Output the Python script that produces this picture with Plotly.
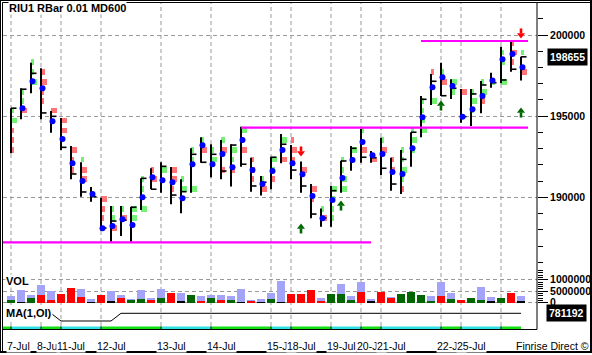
import plotly.graph_objects as go

W, H = 592, 355
def P(px): return px / W
def Q(py): return 1 - py / H

# ---------------- data ----------------
day_labels = ['7-Jul', '8-Jul', '11-Jul', '12-Jul', '13-Jul', '14-Jul', '15-Jul', '18-Jul',
              '19-Jul', '20-Jul', '21-Jul', '22-Jul', '25-Jul', '']
day_start = [0, 3, 5, 9, 15, 20, 26, 28, 32, 35, 37, 43, 45, 49]

bar_idx = list(range(52))
high = [195490, 196720, 198290, 197950, 195320, 194890, 193160, 192160, 190640, 189980,
        189470, 189470, 189420, 191170, 191790, 192160, 191870, 191110, 193020, 193700,
        193270, 193530, 193270, 194350, 192440, 191310, 192500, 193900, 193220, 192200,
        190820, 189320, 190700, 192260, 193160, 194210, 192850, 193670, 192440, 192920,
        194010, 196240, 197600, 198290, 197270, 196670, 196670, 197170, 197680, 199280,
        199590, 198660]
low = [192710, 194810, 196410, 194810, 193980, 192920, 191110, 190040, 189730, 187950,
       187270, 187620, 187270, 189220, 190500, 190290, 189570, 189020, 190290, 192130,
       191230, 191110, 190660, 191890, 190350, 190110, 190500, 192100, 191110, 190290,
       188710, 188190, 188190, 190290, 191640, 192130, 192130, 191380, 190410, 190210,
       191890, 193700, 195690, 196240, 196060, 194600, 194390, 195180, 196750, 197030,
       197740, 197190]
close = [195490, 196660, 197640, 195200, 194990, 193080, 191440, 190330, 190040, 188110,
         188540, 188590, 189390, 191170, 190500, 191910, 190140, 190350, 192650, 192160,
         192650, 191620, 193220, 192040, 190700, 190930, 192470, 193270, 191680, 190700,
         188970, 188730, 190410, 192240, 193020, 192470, 192440, 191790, 190820, 192340,
         194010, 196040, 197150, 196260, 196720, 194970, 196370, 196920, 197060, 197230,
         197890, 198655]
dot = [None, 195490, 197150, 196720, 194680, 193590, 192100, 191010, 190210, 188090,
       188230, 188650, 188300, 190000, 191230, 191050, 190930, 189940, 192040, 193210,
       192040, 192670, 191850, 193530, 191680, 190820, 191620, 192920, 192100, 191420,
       190080, 188710, 189840, 191190, 192300, 193410, 192590, 192670, 191560, 191440,
       193020, 194930, 196780, 197390, 196860, 194970, 195420, 196240, 197190, 198500,
       198830, 198010]

# per-bar volume-at-price blocks: bar, price level, relative size, colour
blk_bar = [0, 0, 0, 0, 0, 1, 1, 1, 2, 2, 2, 3, 3, 3, 3, 4, 5, 5, 6, 6, 6, 7, 7, 7,
           9, 9, 9, 10, 10, 10, 11, 11, 12, 12, 13, 13, 13, 14, 14, 15, 16, 16, 16,
           17, 17, 18, 18, 18, 19, 19, 20, 20, 21, 21, 21, 22, 22, 22, 23, 23, 23,
           24, 24, 24, 25, 25, 26, 26, 26, 27, 27, 28, 28, 28, 29, 30, 30, 31, 31,
           32, 32, 32, 32, 33, 33, 33, 33, 34, 35, 35, 36, 37, 37, 38, 38,
           39, 39, 39, 39, 39, 40, 40, 40, 41, 41, 41, 41, 42, 42, 43, 43, 44, 44,
           45, 46, 46, 46, 47, 47, 47, 48, 49, 49, 49, 50, 50, 50, 51, 51]
blk_price = [195350, 194730, 194120, 193530, 192920, 196490, 195930, 195350,
             198340, 197720, 197110, 197720, 197110, 196490, 195930, 195350,
             194730, 194120, 192920, 192330, 191680, 192330, 191680, 191130,
             189900, 189280, 188730, 189280, 188730, 188110, 189280, 188730,
             189280, 188730, 191130, 190510, 189280, 191680, 191130, 191680,
             191680, 191130, 190510, 191130, 190510, 192920, 192330, 190510,
             193530, 192920, 192920, 192330, 193530, 192920, 191680, 192920, 192330, 191680,
             194120, 193530, 192920, 192330, 191680, 191130, 191130, 190510,
             192330, 191680, 191130, 193530, 192330, 193530, 192920, 192330, 191680,
             190510, 189900, 189280, 188730, 190510, 189900, 189280, 188730,
             192330, 191680, 191130, 190510, 192920, 194120, 192920, 192330, 193530, 192920,
             192330, 191680, 192920, 192330, 191680, 191130, 190510,
             194120, 193530, 192920, 195930, 195350, 194730, 194120, 197720, 195930,
             197720, 197110, 197110, 196490, 196490, 196490, 195930, 195350,
             197110, 196490, 195930, 197110, 198920, 198340, 197110,
             199480, 198920, 198340, 198920, 197720]
blk_size = [1, 3, 1, 1, 1, 1, 1, 3, 1, 1, 3, 2, 3, 1, 1, 3, 3, 3, 3, 1, 1, 1, 3, 3,
            3, 2, 1, 1, 2, 3, 1, 3, 3, 3, 1, 1, 3, 1, 3, 3, 3, 3, 1,
            1, 3, 1, 1, 3, 1, 3, 1, 3, 2, 3, 2, 3, 1, 2, 3, 1, 3,
            1, 2, 1, 1, 3, 3, 2, 2, 3, 3, 1, 3, 2, 3, 3, 1, 1, 3,
            3, 2, 1, 1, 1, 1, 3, 3, 3, 1, 3, 3, 1, 3, 1, 2,
            1, 1, 3, 1, 1, 1, 3, 2, 1, 1, 2, 3, 1, 3, 1, 3, 3, 2,
            3, 1, 3, 1, 1, 3, 2, 2, 1, 2, 3, 1, 3, 1, 1, 3]
blk_col = ['g', 'g', 'r', 'r', 'r', 'g', 'g', 'r', 'g', 'g', 'g', 'r', 'r', 'r', 'r', 'r',
           'r', 'r', 'r', 'r', 'r', 'g', 'r', 'r', 'r', 'r', 'r', 'g', 'g', 'r', 'g', 'r',
           'g', 'g', 'g', 'g', 'g', 'r', 'r', 'g', 'r', 'r', 'r', 'g', 'g', 'g', 'g', 'g',
           'g', 'r', 'g', 'g', 'g', 'r', 'r', 'g', 'g', 'r', 'g', 'g', 'r',
           'r', 'r', 'r', 'g', 'r', 'g', 'g', 'r', 'g', 'r', 'r', 'r', 'r', 'r',
           'r', 'r', 'g', 'r', 'g', 'g', 'g', 'g', 'g', 'g', 'g', 'g', 'g', 'g', 'r',
           'r', 'g', 'r', 'r', 'r', 'g', 'g', 'g', 'g', 'r', 'g', 'g', 'g',
           'g', 'g', 'g', 'g', 'r', 'g', 'g', 'r', 'g', 'g', 'r', 'g', 'g', 'g',
           'g', 'g', 'r', 'g', 'g', 'g', 'g', 'r', 'r', 'r', 'g', 'r']

# support / resistance lines: start bar, end bar, price
sr_start = [-1, 23, 41]
sr_end = [36, 51.7, 51.7]
sr_price = [187220, 194300, 199630]

# signal arrows (tip price)
arrow_bar = [29, 51, 29, 33, 43, 51]
arrow_price = [192610, 199880, 188300, 189710, 195870, 195440]
arrow_dir = ['down', 'down', 'up', 'up', 'up', 'up']

vol_total = [2.94, 5.59, 3.38, 7.79, 5.15, 3.82, 6.47, 6.03, 1.62, 3.38,
             5.15, 3.38, 1.62, 5.59, 2.06, 6.03, 4.26, 4.26, 3.38, 2.94,
             3.38, 3.38, 2.94, 6.03, 1.18, 1.62, 4.26, 9.56, 3.82, 3.82,
             5.59, 2.06, 3.82, 8.24, 2.94, 9.12, 1.62, 4.71, 2.50, 3.82,
             4.71, 3.38, 2.94, 9.12, 4.26, 1.18, 2.06, 6.91, 2.50, 2.06,
             4.26, 2.94]
vol_part = [1.18, 0.30, 1.91, 3.38, 1.18, 3.82, 6.47, 2.50, 0.30, 3.38,
            0.40, 2.06, 1.18, 1.62, 1.18, 2.06, 4.26, 0.74, 3.38, 0.74,
            2.06, 1.18, 1.18, 0.20, 0.74, 0.20, 1.62, 0.20, 3.82, 3.82,
            5.59, 0.74, 3.82, 3.82, 1.18, 4.71, 0.40, 4.71, 2.06, 3.82,
            4.71, 3.38, 0.74, 2.94, 1.62, 1.18, 2.06, 1.18, 0.40, 2.06,
            4.26, 0.40]
vol_col = ['g', 'k', 'g', 'r', 'r', 'r', 'r', 'r', 'k', 'r',
           'k', 'r', 'g', 'g', 'r', 'g', 'r', 'k', 'g', 'r',
           'g', 'r', 'g', 'k', 'r', 'k', 'g', 'k', 'r', 'r',
           'r', 'r', 'g', 'g', 'g', 'r', 'k', 'r', 'r', 'g',
           'g', 'g', 'g', 'r', 'g', 'r', 'g', 'g', 'k', 'g',
           'r', 'k']
vol_scale = 1e6

oi = [781192] * 5 + [779650] * 6 + [781192] * 12 + [781310] + [781192] * 28
last_price = 198655
last_oi = 781192

# ---------------- styling ----------------
GRID = '#9a9a9a'
DASH = '4px,3px'
BLK_COL = {'g': '#74F074', 'r': '#FF7474'}
VOL_COL = {'g': '#006600', 'r': '#FF0000', 'k': '#000000'}
BLK_W = {1: 0.25, 2: 0.42, 3: 0.64}
FONT = 'Liberation Sans, Arial, sans-serif'
PPX = 61.6           # price points per screen pixel
XR = [(3 - 11) / 10, (537 - 11) / 10]

fig = go.Figure()

# volume-at-price blocks
for c in ['g', 'r']:
    ys = [p for p, cc in zip(blk_price, blk_col) if cc == c]
    bs = [b for b, cc in zip(blk_bar, blk_col) if cc == c]
    ws = [BLK_W[s] for s, cc in zip(blk_size, blk_col) if cc == c]
    fig.add_trace(go.Bar(orientation='h', y=ys, x=ws, base=bs, width=350,
                         marker=dict(color=BLK_COL[c], line=dict(width=0)),
                         xaxis='x', yaxis='y', showlegend=False))

# range bars
vx, vy, tx, ty = [], [], [], []
for i, h, l, c in zip(bar_idx, high, low, close):
    vx += [i, i, None]
    vy += [l, h, None]
    tx += [i, i + 0.55, None]
    ty += [c, c, None]
fig.add_trace(go.Scatter(x=vx, y=vy, mode='lines', line=dict(color='black', width=2),
                         showlegend=False, xaxis='x', yaxis='y'))
fig.add_trace(go.Scatter(x=tx, y=ty, mode='lines', line=dict(color='black', width=1.6),
                         showlegend=False, xaxis='x', yaxis='y'))

# support/resistance lines
for s, e, p in zip(sr_start, sr_end, sr_price):
    fig.add_trace(go.Scatter(x=[s, e], y=[p, p], mode='lines',
                             line=dict(color='#FF00FF', width=2.2),
                             showlegend=False, xaxis='x', yaxis='y'))

# blue dots
fig.add_trace(go.Scatter(x=[i + 0.15 for i in bar_idx], y=dot, mode='markers',
                         marker=dict(color='#0000FF', size=6, line=dict(width=0)),
                         showlegend=False, xaxis='x', yaxis='y'))

# signal arrows: shaft + head
for d, col, sym in [('up', '#006600', 'triangle-up'), ('down', '#FF0000', 'triangle-down')]:
    sgn = -1 if d == 'up' else 1
    sx, sy, hx, hy = [], [], [], []
    for b, p, dd in zip(arrow_bar, arrow_price, arrow_dir):
        if dd != d:
            continue
        sx += [b, b, None]
        sy += [p + sgn * 3.5 * PPX, p + sgn * 8.5 * PPX, None]
        hx.append(b)
        hy.append(p + sgn * 2.0 * PPX)
    fig.add_trace(go.Scatter(x=sx, y=sy, mode='lines', line=dict(color=col, width=2.6),
                             showlegend=False, xaxis='x', yaxis='y'))
    fig.add_trace(go.Scatter(x=hx, y=hy, mode='markers',
                             marker=dict(symbol=sym, size=7, color=col, line=dict(width=0)),
                             showlegend=False, xaxis='x', yaxis='y'))

# volume
fig.add_trace(go.Bar(x=bar_idx, y=[v * vol_scale for v in vol_total], width=0.8,
                     marker=dict(color='#A3A3FA', line=dict(width=0)),
                     xaxis='x', yaxis='y2', showlegend=False))
fig.add_trace(go.Bar(x=bar_idx, y=[v * vol_scale for v in vol_part], width=0.8,
                     marker=dict(color=[VOL_COL[c] for c in vol_col], line=dict(width=0)),
                     xaxis='x', yaxis='y2', showlegend=False))

# open interest MA
fig.add_trace(go.Scatter(x=bar_idx, y=oi, mode='lines', line=dict(color='black', width=1),
                         showlegend=False, xaxis='x', yaxis='y3'))

shapes = []
# vertical day gridlines
for s in day_start:
    shapes.append(dict(type='line', xref='x', yref='paper', x0=s, x1=s, y0=Q(326), y1=Q(3),
                       line=dict(color=GRID, width=1, dash=DASH), layer='below'))
# session band
band_cols = ['#2EE0E0', '#10E010']
edges = [XR[0]] + day_start + [51]
for k in range(len(edges) - 1):
    shapes.append(dict(type='rect', xref='x', yref='paper', x0=edges[k], x1=edges[k + 1],
                       y0=Q(329), y1=Q(326.5), fillcolor=band_cols[(k + 1) % 2],
                       line=dict(width=0)))
for s in day_start:
    shapes.append(dict(type='line', xref='x', yref='paper', x0=s, x1=s, y0=Q(329), y1=Q(326.5),
                       line=dict(color='black', width=1)))
# frame lines
shapes += [
    dict(type='line', xref='paper', yref='paper', x0=P(537), x1=P(537), y0=Q(329.5), y1=Q(2.5),
         line=dict(color='black', width=1)),
    dict(type='line', xref='paper', yref='paper', x0=P(2.5), x1=P(537), y0=Q(329.5), y1=Q(329.5),
         line=dict(color='black', width=1)),
    dict(type='line', xref='paper', yref='paper', x0=P(0.5), x1=P(592), y0=Q(0.5), y1=Q(0.5),
         line=dict(color='black', width=1)),
    dict(type='line', xref='paper', yref='paper', x0=P(2.5), x1=P(590), y0=Q(2.5), y1=Q(2.5),
         line=dict(color='black', width=1)),
    dict(type='line', xref='paper', yref='paper', x0=P(0.5), x1=P(0.5), y0=Q(0), y1=Q(353),
         line=dict(color='black', width=1)),
    dict(type='line', xref='paper', yref='paper', x0=P(2.5), x1=P(2.5), y0=Q(2.5), y1=Q(352),
         line=dict(color='black', width=1)),
    dict(type='line', xref='paper', yref='paper', x0=P(591), x1=P(591), y0=Q(0), y1=Q(353),
         line=dict(color='black', width=2)),
    dict(type='line', xref='paper', yref='paper', x0=P(0), x1=P(592), y0=Q(352), y1=Q(352),
         line=dict(color='black', width=2)),
]

ann = []
for s, lab in zip(day_start, day_labels):
    if lab:
        ann.append(dict(xref='x', yref='paper', x=s, y=Q(346), xanchor='left', yanchor='middle',
                        xshift=-5, text=lab, showarrow=False, bgcolor='white', borderpad=0,
                        font=dict(family=FONT, size=10.5, color='black')))
ann += [
    dict(xref='paper', yref='paper', x=P(8), y=Q(8.5), xanchor='left', yanchor='middle',
         text='<b>RIU1 RBar 0.01 MD600</b>', showarrow=False, bgcolor='white', borderpad=0,
         font=dict(family=FONT, size=11, color='black')),
    dict(xref='paper', yref='paper', x=P(5), y=Q(280.5), xanchor='left', yanchor='middle',
         text='<b>VOL</b>', showarrow=False, bgcolor='white', borderpad=0,
         font=dict(family=FONT, size=11, color='black')),
    dict(xref='paper', yref='paper', x=P(5), y=Q(313), xanchor='left', yanchor='middle',
         text='<b>MA(1,OI)</b>', showarrow=False, bgcolor='white', borderpad=0,
         font=dict(family=FONT, size=11, color='black')),
    dict(xref='paper', yref='paper', x=P(514), y=Q(345.5), xanchor='left', yanchor='middle',
         text='Finrise Direct \u00a9', showarrow=False,
         font=dict(family=FONT, size=10.5, color='black')),
    dict(xref='paper', yref='y', x=P(546.5), y=last_price, xanchor='left', yanchor='middle',
         text='<b>%d</b>' % last_price, showarrow=False, bgcolor='black', borderpad=2,
         font=dict(family=FONT, size=10.5, color='white')),
    dict(xref='paper', yref='y3', x=P(546), y=last_oi, xanchor='left', yanchor='middle',
         text='<b>%d</b>' % last_oi, showarrow=False, bgcolor='black', borderpad=2,
         font=dict(family=FONT, size=10.5, color='white')),
]

# price axis: 200000 at pixel row 35
y_top, y_bot = 3, 265
price_range = [200000 - (y_bot - 35) * PPX, 200000 + (35 - y_top) * PPX]
# volume axis: 0 at pixel row 302.7, 2.3 px per million
v_top, v_bot = 270, 304
vol_range = [-(v_bot - 302.7) / 2.3 * 1e6, (302.7 - v_top) / 2.3 * 1e6]
# OI axis: 200 per pixel, 781192 at row 313.3
m_top, m_bot = 305, 326
oi_range = [781192 - (m_bot - 313.3) * 200, 781192 + (313.3 - m_top) * 200]

tickfont = dict(family=FONT, size=10.5, color='black', weight='bold')

fig.update_layout(
    width=W, height=H, margin=dict(l=0, r=0, t=0, b=0, autoexpand=False),
    paper_bgcolor='white', plot_bgcolor='white',
    barmode='overlay', bargap=0, showlegend=False, hovermode=False,
    xaxis=dict(domain=[P(3), P(537)], range=XR, visible=False, fixedrange=True,
               automargin=False),
    yaxis=dict(domain=[Q(y_bot), Q(y_top)], range=price_range, side='right', anchor='x',
               tickmode='linear', tick0=0, dtick=5000, tickformat='d',
               ticks='outside', ticklen=10, tickwidth=1, tickcolor='black',
               minor=dict(ticks='outside', ticklen=5, tickmode='linear', tick0=0, dtick=1000,
                          tickcolor='black', showgrid=False),
               showgrid=True, gridcolor=GRID, griddash=DASH, gridwidth=1, automargin=False,
               zeroline=False, showline=False, tickfont=tickfont, fixedrange=True),
    yaxis2=dict(domain=[Q(v_bot), Q(v_top)], range=vol_range, side='right', anchor='x',
                tickmode='linear', tick0=0, dtick=5e6, tickformat='d',
                ticks='outside', ticklen=10, tickwidth=1, tickcolor='black',
                minor=dict(ticks='outside', ticklen=5, tickmode='linear', tick0=0, dtick=1e6,
                           tickcolor='black', showgrid=False),
                showgrid=True, gridcolor=GRID, griddash=DASH, gridwidth=1, automargin=False,
                zeroline=False, showline=False, tickfont=tickfont, fixedrange=True),
    yaxis3=dict(domain=[Q(m_bot), Q(m_top)], range=oi_range, side='right', anchor='x',
                showticklabels=False, ticks='', showgrid=False, zeroline=False,
                showline=False, fixedrange=True, automargin=False),
    shapes=shapes, annotations=ann,
)

fig.write_html("out.html", config={'displayModeBar': False})
